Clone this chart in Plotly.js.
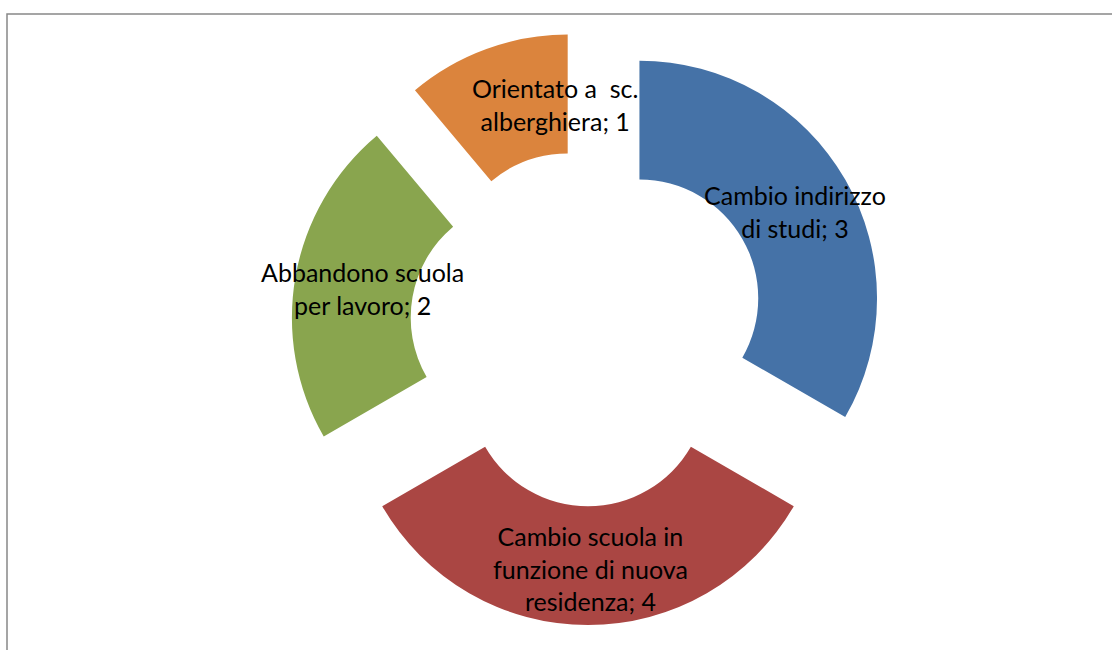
<!DOCTYPE html>
<html>
<head>
<meta charset="utf-8">
<script src="https://cdn.plot.ly/plotly-3.0.1.min.js"></script>
<style>html,body{margin:0;padding:0;background:#fff;}#chart{width:1112px;height:650px;}</style>
</head>
<body>
<div id="chart"></div>
<script>
var categories = [
  "Cambio indirizzo<br>di studi",
  "Cambio scuola in<br>funzione di nuova<br>residenza",
  "Abbandono scuola<br>per lavoro",
  "Orientato a  sc.<br>alberghiera"
];
// values printed in the data labels
var labelValues = [3, 4, 2, 1];
// slice shares as drawn in the picture (angles measured: 120°, 120°, 80°, 40°)
var sliceValues = [3, 3, 2, 1];
var colors = ["#4572A7", "#AA4643", "#89A54E", "#DB843D"];

// label anchor positions (pixels in the 1112x650 page)
var labelPos = [[795, 211], [590, 568], [362, 288], [555, 105]];

var W = 1112, H = 650;
var annotations = categories.map(function (c, i) {
  return {
    text: c + "; " + labelValues[i],
    x: labelPos[i][0] / W, y: 1 - labelPos[i][1] / H,
    xref: "paper", yref: "paper", showarrow: false,
    xanchor: "center", yanchor: "middle", align: "center",
    font: {family: "Lato, 'Liberation Sans', sans-serif", size: 25, color: "#000"}
  };
});

var cx = 588, cy = 328, half = 297;
var trace = {
  type: "pie",
  labels: categories,
  values: sliceValues,
  marker: {colors: colors, line: {width: 0}},
  hole: 0.5,
  pull: 0.25,
  sort: false,
  direction: "clockwise",
  rotation: 0,
  textinfo: "none",
  hoverinfo: "label",
  showlegend: false,
  domain: {x: [(cx - half) / W, (cx + half) / W], y: [1 - (cy + half) / H, 1 - (cy - half) / H]}
};

var layout = {
  width: W, height: H,
  margin: {l: 0, r: 0, t: 0, b: 0},
  paper_bgcolor: "#fff",
  showlegend: false,
  annotations: annotations,
  shapes: [{
    type: "rect", xref: "paper", yref: "paper",
    x0: 7 / W, x1: 1.05, y0: -0.05, y1: 1 - 14 / H,
    line: {color: "#888888", width: 1.5}
  }]
};

Plotly.newPlot("chart", [trace], layout, {displayModeBar: false, staticPlot: true});
</script>
</body>
</html>
